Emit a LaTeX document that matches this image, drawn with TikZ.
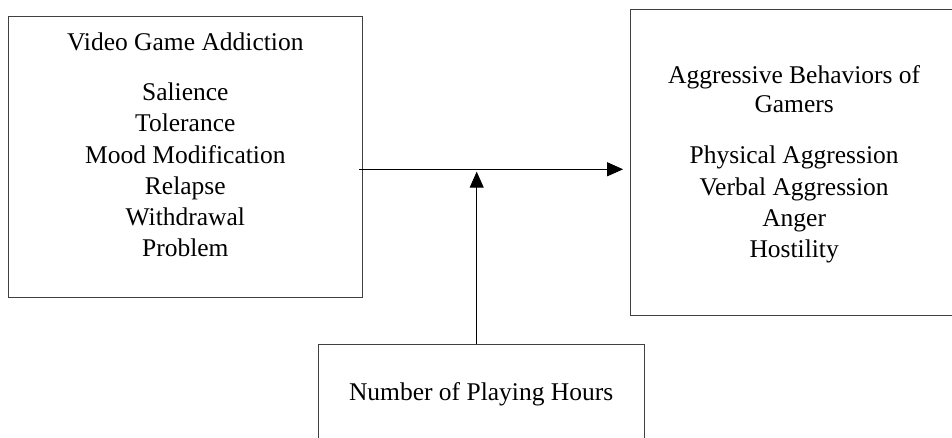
\documentclass[tikz,border=0pt]{standalone}
\usepackage{fontspec}
\setmainfont{Liberation Serif}
\usepackage{tikz}
\usetikzlibrary{arrows.meta, positioning}

\begin{document}
\begin{tikzpicture}[
    x=1pt, y=-1pt,
    every node/.style={font=\fontsize{25.5}{31.2}\selectfont},
    box/.style={draw=black!75, line width=0.9pt, rectangle, inner sep=0pt},
    boxtext/.style={align=center, inner sep=0pt},
    arrow/.style={-{Triangle[length=16pt, width=14pt]}, line width=0.9pt}
]
\useasboundingbox (0,0) rectangle (952,438);

% the three boxes
\node[box, minimum width=353.3pt, minimum height=281pt] (vga) at (185.3,156.5) {};
\node[box, minimum width=328pt, minimum height=306.4pt, right=267.3pt of vga, yshift=-6pt] (agg) {};
\node[box, minimum width=326pt, minimum height=100pt, below=46.3pt of vga.south east, xshift=118.7pt] (hrs) {};

% their texts
\node[boxtext, below=17pt of vga.north] (vgatext) {Video Game Addiction\\[19pt]
    Salience\\ Tolerance\\ Mood Modification\\ Relapse\\ Withdrawal\\ Problem};
\node[boxtext, below=56.5pt of agg.north] (aggtext) {Aggressive Behaviors of\\[-2pt] Gamers\\[20pt]
    Physical Aggression\\ Verbal Aggression\\ Anger\\ Hostility};
\node[boxtext] (hrstext) at (hrs) {Number of Playing Hours};

% connectors
\coordinate (join) at (476.7,171.7);
\draw[arrow] ([xshift=-3pt, yshift=-12.8pt]vga.east) -- ([xshift=-6.6pt, yshift=-6.8pt]agg.west);
\draw[arrow] (hrs.north -| join) -- (join);

\end{tikzpicture}
\end{document}
